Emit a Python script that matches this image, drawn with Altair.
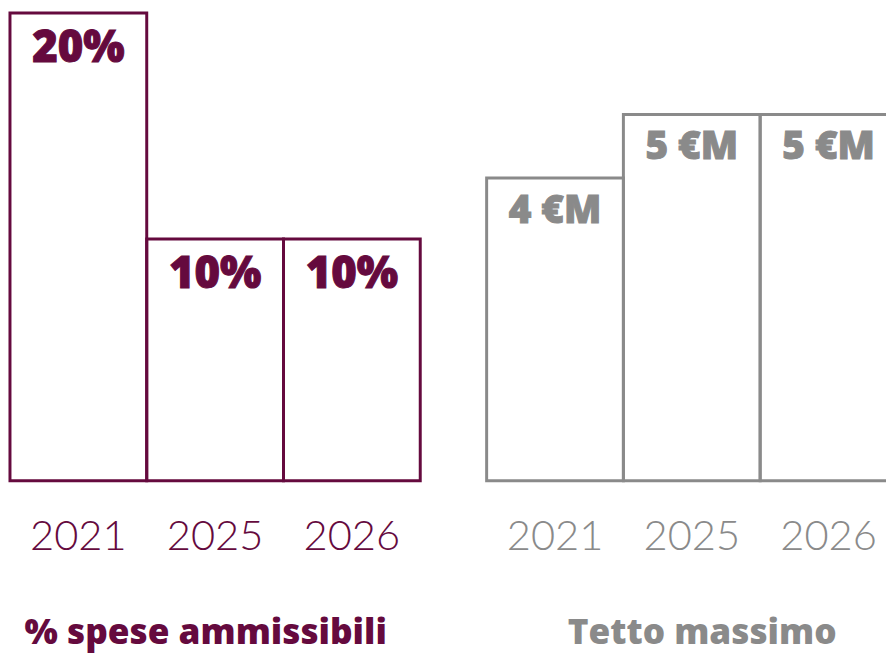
import altair as alt
import pandas as pd

years = ["2021", "2025", "2026"]
pct_values = [20, 10, 10]
pct_labels = ["20%", "10%", "10%"]
cap_values = [4, 5, 5]
cap_labels = ["4 €M", "5 €M", "5 €M"]

PURPLE = "#650a3e"
GREY = "#8a8a8a"
H = 472
W = 414

left_df = pd.DataFrame({"anno": years, "v": pct_values, "lab": pct_labels})
right_df = pd.DataFrame({"anno": years, "v": cap_values, "lab": cap_labels})


def panel(df, color, title, title_x, ydomain, vsize, vdy):
    xscale = alt.Scale(paddingInner=0, paddingOuter=0)
    x = alt.X("anno:N", sort=years, scale=xscale,
              axis=alt.Axis(title=title, labelAngle=0, domain=False, ticks=False,
                            labelFont="Lato", labelFontWeight=300, labelFontSize=42,
                            labelColor=color, labelPadding=36,
                            titleFont="Open Sans", titleFontWeight=800, titleFontSize=35.5,
                            titleColor=color, titlePadding=59,
                            titleX=title_x, titleAlign="center"))
    y = alt.Y("v:Q", scale=alt.Scale(domain=ydomain, zero=False, nice=False), axis=None)
    bars = alt.Chart(df).mark_bar(fill="white", fillOpacity=0, stroke=color,
                                  strokeWidth=3).encode(
        x=x, y=y, y2=alt.datum(ydomain[0]))
    texts = alt.Chart(df).mark_text(font="Open Sans", fontWeight=800, fontSize=vsize,
                                    color=color, stroke=color, strokeWidth=1.0,
                                    baseline="middle", dy=vdy).encode(
        x=alt.X("anno:N", sort=years, scale=xscale), y=y, text="lab:N")
    return alt.layer(bars, texts).properties(width=W, height=H)


left = panel(left_df, PURPLE, "% spese ammissibili", 197, [-0.7, 20], 44, 36)
right = panel(right_df, GREY, "Tetto massimo", 217, [-0.77, 6.6], 39, 33)

chart = alt.hconcat(left, right, spacing=63).resolve_scale(
    x="independent", y="independent").properties(
    autosize=alt.AutoSizeParams(type="none"),
    padding={"left": 2, "top": 0, "right": 884, "bottom": 646}
).configure_view(stroke=None)

chart.save("out.html", embed_options={"renderer": "svg", "actions": False})
